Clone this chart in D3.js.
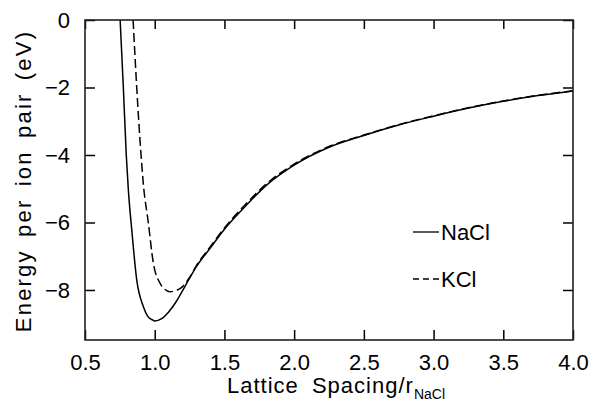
<!DOCTYPE html>
<html>
<head>
<meta charset="utf-8">
<script src="https://cdn.jsdelivr.net/npm/d3@7"></script>
<style>
body{margin:0;background:#fff}
text{font-family:"Liberation Sans",Arial,Helvetica,sans-serif;fill:#000}
</style>
</head>
<body>
<div id="container"></div>
<script>
// values
var naclX = [0.752,0.775,0.796,0.811,0.835,0.871,0.918,0.95,0.99,1.0,1.05,1.10,1.15,1.20,1.25,1.30,1.40,1.50,1.65,1.80,2.0,2.25,2.5,2.75,3.0,3.25,3.5,3.75,4.0]
var naclY = [0,-2.0,-4.0,-5.04,-6.2,-7.7,-8.49,-8.78,-8.9,-8.92,-8.85,-8.65,-8.37,-8.02,-7.65,-7.3,-6.75,-6.2,-5.52,-4.9,-4.3,-3.77,-3.42,-3.11,-2.85,-2.61,-2.41,-2.24,-2.1]
var kclX = [0.845,0.871,0.902,0.918,0.954,0.99,1.038,1.07,1.11,1.15,1.20,1.25,1.30,1.40,1.50,1.65,1.80,2.0,2.25,2.5,2.75,3.0,3.25,3.5,3.75,4.0]
var kclY = [0,-2.0,-4.0,-4.84,-6.0,-7.2,-7.8,-7.97,-8.05,-8.02,-7.9,-7.63,-7.27,-6.71,-6.16,-5.47,-4.86,-4.27,-3.75,-3.41,-3.10,-2.84,-2.60,-2.40,-2.23,-2.1]
var xTicks = [0.5,1.0,1.5,2.0,2.5,3.0,3.5,4.0]
var yTicks = [0,-2,-4,-6,-8]
var seriesNames = ["NaCl","KCl"]

var w = 590
var h = 406
var pLeft = 85, pRight = 573, pTop = 20, pBottom = 340

var xScale = d3.scaleLinear().domain([0.5,4.0]).range([pLeft,pRight])
var yScale = d3.scaleLinear().domain([-9.5,0]).range([340.6,pTop])

var svg = d3.select("#container").append("svg").attr("width",w).attr("height",h)

svg.append("defs").append("clipPath").attr("id","plotclip")
    .append("rect").attr("x",pLeft).attr("y",pTop).attr("width",pRight-pLeft).attr("height",pBottom-pTop)

function toPoints(xs,ys){
    var pts = []
    for(var i in xs){
        pts.push({x:xs[i],y:ys[i]})
    }
    return pts
}

var line = d3.line().curve(d3.curveMonotoneX)
    .x(function(d){return xScale(d.x)})
    .y(function(d){return yScale(d.y)})

var g = svg.append("g").attr("clip-path","url(#plotclip)")
g.append("path").attr("d",line(toPoints(naclX,naclY)))
    .attr("fill","none").attr("stroke","#000").attr("stroke-width",1.5)
g.append("path").attr("d",line(toPoints(kclX,kclY)))
    .attr("fill","none").attr("stroke","#000").attr("stroke-width",1.5)
    .attr("stroke-dasharray","9,4")

// axes, ticks pointing inward
var fmt = function(d){return d3.format(".1f")(d)}
var xAxisB = d3.axisBottom(xScale).tickValues(xTicks).tickSizeInner(-10).tickSizeOuter(0).tickPadding(14).tickFormat(fmt)
var xAxisT = d3.axisTop(xScale).tickValues(xTicks).tickSizeInner(-9).tickSizeOuter(0).tickFormat("")
var yAxisL = d3.axisLeft(yScale).tickValues(yTicks).tickSizeInner(-10).tickSizeOuter(0).tickPadding(15).tickFormat(d3.format("d"))
var yAxisR = d3.axisRight(yScale).tickValues(yTicks).tickSizeInner(-10).tickSizeOuter(0).tickFormat("")

svg.append("g").attr("transform","translate(0,"+pBottom+")").call(xAxisB)
svg.append("g").attr("transform","translate(0,"+pTop+")").call(xAxisT)
svg.append("g").attr("transform","translate("+pLeft+",0)").call(yAxisL)
svg.append("g").attr("transform","translate("+pRight+",0)").call(yAxisR)

svg.selectAll(".domain").remove()
svg.selectAll(".tick line").attr("stroke","#000").attr("stroke-width",1.5)
svg.selectAll(".tick text").style("font-size","22px").style("font-family","Liberation Sans, Arial, sans-serif").attr("fill","#000")

svg.append("rect").attr("x",pLeft).attr("y",pTop).attr("width",pRight-pLeft).attr("height",pBottom-pTop)
    .attr("fill","none").attr("stroke","#222").attr("stroke-width",1.6)

// legend
var legY = [232,279]
for(var s in seriesNames){
    svg.append("line").attr("x1",413).attr("x2",439).attr("y1",legY[s]).attr("y2",legY[s])
        .attr("stroke","#000").attr("stroke-width",1.3)
        .attr("stroke-dasharray",s==1?"6,4":null)
    svg.append("text").attr("x",441).attr("y",legY[s]+8).text(seriesNames[s]).style("font-size","22px")
}

// axis titles
var xt = svg.append("text").attr("x",336).attr("y",393).attr("text-anchor","middle")
    .style("font-size","22px").style("letter-spacing","1px").style("word-spacing","6px")
xt.append("tspan").text("Lattice Spacing/r")
xt.append("tspan").attr("dy",6).style("font-size","14px").style("letter-spacing","0px").text("NaCl")

svg.append("text").attr("transform","translate(31,181) rotate(-90)").attr("text-anchor","middle")
    .style("font-size","22px").style("letter-spacing","2.2px").style("word-spacing","4px").text("Energy per ion pair (eV)")
</script>
</body>
</html>
